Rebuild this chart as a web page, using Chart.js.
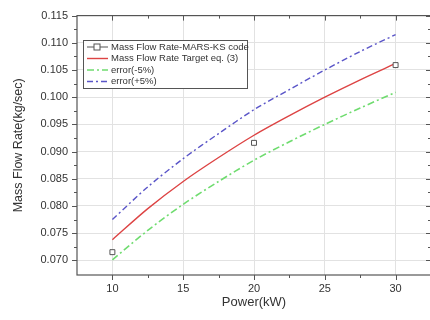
<!DOCTYPE html>
<html>
<head>
<meta charset="utf-8">
<script src="https://cdn.jsdelivr.net/npm/chart.js@4.4.1/dist/chart.umd.min.js"></script>
<style>
html, body { margin: 0; padding: 0; background: #fff; overflow: hidden; }
#wrap { width: 436px; height: 320px; }
</style>
</head>
<body>
<div id="wrap"><canvas id="flowChart" width="436" height="320"></canvas></div>
<script>
// values
const powerKW    = [10, 12.5, 15, 17.5, 20, 22.5, 25, 27.5, 30];
const targetFlow = [0.0738, 0.0795, 0.0845, 0.0889, 0.0930, 0.0966, 0.1000, 0.1032, 0.1062];
const minusFive  = [0.0701, 0.0755, 0.0803, 0.0845, 0.0884, 0.0918, 0.0950, 0.0980, 0.1009];
const plusFive   = [0.0775, 0.0835, 0.0887, 0.0933, 0.0977, 0.1014, 0.1050, 0.1084, 0.1115];
const marsPower  = [10, 20, 30];
const marsFlow   = [0.0715, 0.0916, 0.1059];

const seriesNames = ['Mass Flow Rate-MARS-KS code', 'Mass Flow Rate Target eq. (3)', 'error(-5%)', 'error(+5%)'];
const xTicks = [10, 15, 20, 25, 30];
const xMinor = [12.5, 17.5, 22.5, 27.5];
const yTicks = [0.070, 0.075, 0.080, 0.085, 0.090, 0.095, 0.100, 0.105, 0.110, 0.115];
const yMinor = [0.0725, 0.0775, 0.0825, 0.0875, 0.0925, 0.0975, 0.1025, 0.1075, 0.1125];

const AXIS = '#555';
const TXT = '#333';

const toPoints = (xs, ys) => xs.map((x, i) => ({ x: x, y: ys[i] }));

// frame, ticks on all four sides, legend box inside plot
const framePlugin = {
    id: 'frame',
    afterDraw(chart) {
        const ctx = chart.ctx;
        const a = chart.chartArea;
        const xs = chart.scales.x, ys = chart.scales.y;
        ctx.save();
        ctx.strokeStyle = AXIS;
        ctx.lineWidth = 1.2;
        ctx.strokeRect(a.left, a.top, a.right - a.left, a.bottom - a.top);

        ctx.lineWidth = 1;
        ctx.beginPath();
        const tickX = (vals, len) => vals.forEach(v => {
            const px = Math.round(xs.getPixelForValue(v)) + 0.5;
            ctx.moveTo(px, a.bottom); ctx.lineTo(px, a.bottom + len);
            ctx.moveTo(px, a.top); ctx.lineTo(px, a.top + len);
        });
        const tickY = (vals, len) => vals.forEach(v => {
            const py = Math.round(ys.getPixelForValue(v)) + 0.5;
            ctx.moveTo(a.left, py); ctx.lineTo(a.left - len, py);
            ctx.moveTo(a.right, py); ctx.lineTo(a.right - len, py);
        });
        tickX(xTicks, 5); tickX(xMinor, 3);
        tickY(yTicks, 5); tickY(yMinor, 3);
        ctx.stroke();

        // legend
        const bx = 83, by = 40, bw = 164, bh = 48, rowH = 11.5;
        ctx.fillStyle = '#fff';
        ctx.fillRect(bx, by, bw, bh);
        ctx.strokeStyle = AXIS;
        ctx.lineWidth = 1;
        ctx.strokeRect(bx + 0.5, by + 0.5, bw, bh);
        ctx.font = '9.5px "Liberation Sans", Arial, sans-serif';
        ctx.textBaseline = 'middle';
        chart.data.datasets.forEach((ds, i) => {
            const y = by + 7 + i * rowH;
            ctx.save();
            ctx.strokeStyle = ds.borderColor;
            ctx.lineWidth = ds.borderWidth || 1.2;
            ctx.setLineDash(ds.borderDash || []);
            ctx.beginPath();
            ctx.moveTo(bx + 4, y); ctx.lineTo(bx + 25, y);
            ctx.stroke();
            if (ds.pointStyle === 'rect') {
                ctx.setLineDash([]);
                ctx.fillStyle = '#fff';
                ctx.fillRect(bx + 11, y - 3, 6, 6);
                ctx.strokeRect(bx + 11, y - 3, 6, 6);
            }
            ctx.restore();
            ctx.fillStyle = TXT;
            ctx.fillText(ds.label, bx + 28, y);
        });
        ctx.restore();
    }
};

new Chart(document.getElementById('flowChart'), {
    type: 'line',
    data: {
        datasets: [
            {
                label: seriesNames[0],
                data: toPoints(marsPower, marsFlow),
                showLine: false,
                pointStyle: 'rect',
                pointRadius: 3.5,
                pointBorderWidth: 1,
                pointBackgroundColor: '#fff',
                borderColor: '#555',
                borderWidth: 1,
                order: 0
            },
            {
                label: seriesNames[1],
                data: toPoints(powerKW, targetFlow),
                borderColor: '#dd4444',
                borderWidth: 1.4,
                pointRadius: 0,
                tension: 0.3,
                order: 1
            },
            {
                label: seriesNames[2],
                data: toPoints(powerKW, minusFive),
                borderColor: '#6fdc6f',
                borderWidth: 1.6,
                borderDash: [7, 3, 2, 3],
                pointRadius: 0,
                tension: 0.3,
                order: 2
            },
            {
                label: seriesNames[3],
                data: toPoints(powerKW, plusFive),
                borderColor: '#5a55c8',
                borderWidth: 1.4,
                borderDash: [6, 3, 2, 3],
                pointRadius: 0,
                tension: 0.3,
                order: 3
            }
        ]
    },
    options: {
        responsive: false,
        animation: false,
        layout: { padding: { top: 13, right: 2, left: 0, bottom: 0 } },
        plugins: { legend: { display: false }, tooltip: { enabled: false } },
        scales: {
            x: {
                type: 'linear',
                min: 7.5,
                max: 32.5,
                afterBuildTicks: s => { s.ticks = xTicks.map(v => ({ value: v })); },
                afterFit: s => { s.height = 45; },
                grid: { color: '#e2e2e2', drawTicks: false },
                border: { display: false },
                ticks: { padding: 7, color: TXT, font: { family: '"Liberation Sans", Arial', size: 11 } },
                title: {
                    display: true,
                    text: 'Power(kW)',
                    color: TXT,
                    font: { family: '"Liberation Sans", Arial', size: 13 },
                    padding: { top: 0, bottom: 10 }
                }
            },
            y: {
                type: 'linear',
                min: 0.0673,
                max: 0.115,
                afterBuildTicks: s => { s.ticks = yTicks.map(v => ({ value: v })); },
                afterFit: s => { s.width = 77; },
                grid: { color: '#e2e2e2', drawTicks: false },
                border: { display: false },
                ticks: {
                    padding: 9,
                    color: TXT,
                    font: { family: '"Liberation Sans", Arial', size: 11 },
                    callback: v => v.toFixed(3)
                },
                title: {
                    display: true,
                    text: 'Mass Flow Rate(kg/sec)',
                    color: TXT,
                    font: { family: '"Liberation Sans", Arial', size: 12.5 },
                    padding: { top: 11, bottom: 0 }
                }
            }
        }
    },
    plugins: [framePlugin]
});
</script>
</body>
</html>
